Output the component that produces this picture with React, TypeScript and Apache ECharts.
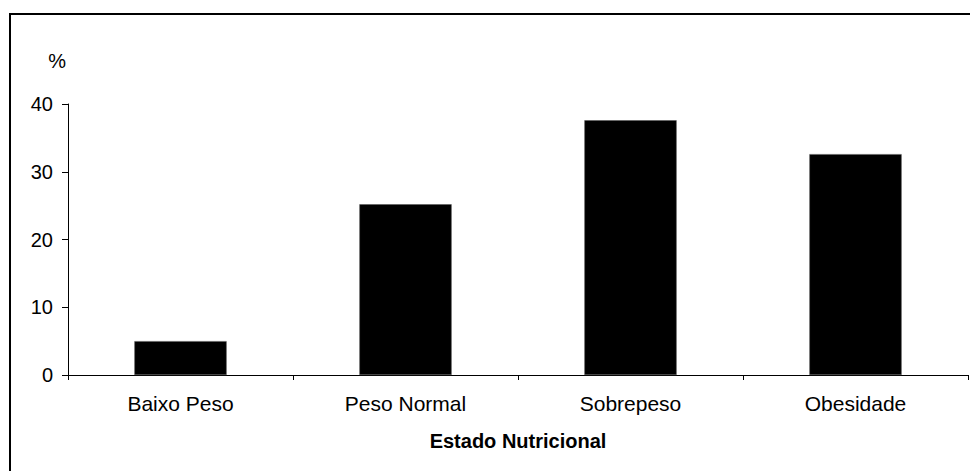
import React, { useEffect, useRef } from "react";
import * as echarts from "echarts";

const categories = ["Baixo Peso", "Peso Normal", "Sobrepeso", "Obesidade"];
const values = [5.0, 25.2, 37.6, 32.6];
const yTicks = { min: 0, max: 40, interval: 10 };
const xAxisTitle = "Estado Nutricional";
const yAxisTitle = "%";

export default function App() {
  const ref = useRef<HTMLDivElement>(null);
  useEffect(() => {
    const chart = echarts.init(ref.current!, null, { renderer: "svg" });
    const font = "'Liberation Sans', Arial, sans-serif";
    chart.setOption({
      animation: false,
      backgroundColor: "#ffffff",
      textStyle: { fontFamily: font },
      graphic: [
        {
          type: "rect",
          shape: { x: 10, y: 14, width: 980, height: 480 },
          style: { fill: "none", stroke: "#000", lineWidth: 2 },
          silent: true,
        },
      ],
      grid: { left: 68, right: 2, top: 104, bottom: 96, containLabel: false },
      xAxis: {
        type: "category",
        data: categories,
        boundaryGap: true,
        axisLine: { lineStyle: { color: "#000", width: 1 } },
        axisTick: { show: true, inside: false, length: 5, alignWithLabel: false, lineStyle: { color: "#000" } },
        axisLabel: { color: "#000", fontSize: 21, margin: 18, fontFamily: font },
        name: xAxisTitle,
        nameLocation: "middle",
        nameGap: 56,
        nameTextStyle: { color: "#000", fontSize: 20, fontWeight: "bold", fontFamily: font },
      },
      yAxis: {
        type: "value",
        min: yTicks.min,
        max: yTicks.max,
        interval: yTicks.interval,
        splitLine: { show: false },
        axisLine: { show: true, lineStyle: { color: "#000", width: 1 } },
        axisTick: { show: true, inside: false, length: 6, lineStyle: { color: "#000" } },
        axisLabel: { color: "#000", fontSize: 20, margin: 15, fontFamily: font },
        name: yAxisTitle,
        nameLocation: "end",
        nameGap: 33,
        nameTextStyle: { color: "#000", fontSize: 20, align: "right", padding: [0, 2, 0, 0], fontFamily: font },
      },
      series: [
        {
          type: "bar",
          data: values,
          barWidth: "41%",
          itemStyle: { color: "#000", borderColor: "#555", borderWidth: 0.5 },
        },
      ],
    });
    return () => chart.dispose();
  }, []);
  return (
    <div
      ref={ref}
      style={{ position: "fixed", left: 0, top: 0, width: 970, height: 471 }}
    />
  );
}
